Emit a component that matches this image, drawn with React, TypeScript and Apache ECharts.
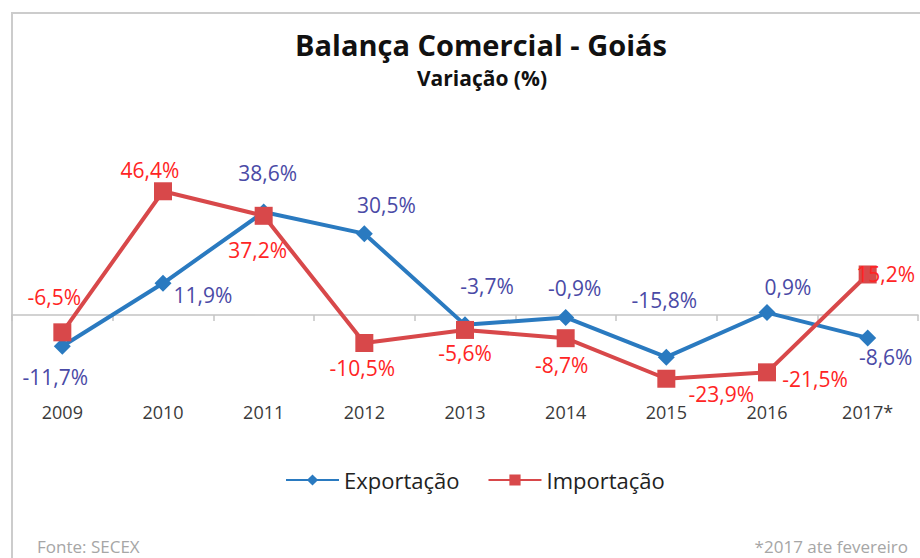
import React, { useEffect, useRef } from "react";
import * as echarts from "echarts";

const categories = ["2009", "2010", "2011", "2012", "2013", "2014", "2015", "2016", "2017*"];
const exportacao = [-11.7, 11.9, 38.6, 30.5, -3.7, -0.9, -15.8, 0.9, -8.6];
const importacao = [-6.5, 46.4, 37.2, -10.5, -5.6, -8.7, -23.9, -21.5, 15.2];

// label offsets (styling) relative to each marker
const expLabelOffsets = [[-7, 31], [40, 12], [4, -39], [22, -29], [22, -39], [9, -29], [-2, -57], [21, -26], [18, 19]];
const impLabelOffsets = [[-8, -35], [-13, -21], [-6, 34], [-2, 25], [0, 23], [-4, 27], [55, 15], [48, 7], [18, 0]];

const FONT = "'Open Sans', 'Noto Sans', sans-serif";
const fmt = (v: number) => v.toFixed(1).replace(".", ",") + "%";

export default function App() {
  const ref = useRef<HTMLDivElement>(null);
  useEffect(() => {
    if (!ref.current) return;
    const chart = echarts.init(ref.current, undefined, { renderer: "svg" });
    const mk = (vals: number[], offs: number[][]) =>
      vals.map((v, i) => ({ value: v, label: { offset: offs[i] } }));
    chart.setOption({
      animation: false,
      backgroundColor: "#ffffff",
      textStyle: { fontFamily: FONT },
      grid: { left: 12, right: 2, top: 155, bottom: 163, containLabel: false },
      xAxis: [
        {
          type: "category",
          data: categories,
          position: "bottom",
          axisLine: { show: true, onZero: true, lineStyle: { color: "#c4c4c4", width: 1.5 } },
          axisTick: { show: true, length: 6, lineStyle: { color: "#c4c4c4", width: 1.5 } },
          axisLabel: { show: false },
          splitLine: { show: false },
        },
        {
          type: "category",
          data: categories,
          position: "bottom",
          axisLine: { show: false, onZero: false },
          axisTick: { show: false },
          axisLabel: { show: true, color: "#3a3a3a", fontSize: 18, fontFamily: FONT, margin: 8 },
          splitLine: { show: false },
        },
      ],
      yAxis: { type: "value", min: -30, max: 60, show: false, splitLine: { show: false } },
      legend: {
        left: 280,
        top: 464,
        itemWidth: 53,
        itemHeight: 14,
        itemGap: 28,
        textStyle: { fontSize: 22, color: "#222222", fontFamily: FONT },
        data: ["Exportação", "Importação"],
      },
      series: [
        {
          name: "Exportação",
          type: "line",
          xAxisIndex: 0,
          data: mk(exportacao, expLabelOffsets),
          symbol: "diamond",
          symbolSize: 17,
          lineStyle: { color: "#2a7ac0", width: 4 },
          itemStyle: { color: "#2a7ac0" },
          label: {
            show: true,
            position: "inside",
            color: "#4a4aa6",
            fontSize: 21,
            fontFamily: FONT,
            formatter: (p: any) => fmt(p.value),
          },
          z: 2,
        },
        {
          name: "Importação",
          type: "line",
          xAxisIndex: 0,
          data: mk(importacao, impLabelOffsets),
          symbol: "rect",
          symbolSize: 18,
          lineStyle: { color: "#d8484a", width: 4 },
          itemStyle: { color: "#d8484a" },
          label: {
            show: true,
            position: "inside",
            color: "#ff2424",
            fontSize: 21,
            fontFamily: FONT,
            formatter: (p: any) => fmt(p.value),
          },
          z: 3,
        },
      ],
      graphic: [
        {
          type: "rect",
          shape: { x: 12, y: 13, width: 940, height: 580 },
          style: { fill: "none", stroke: "#cccccc", lineWidth: 2 },
          silent: true,
        },
        {
          type: "text",
          x: 481,
          y: 44,
          style: {
            text: "Balança Comercial - Goiás",
            font: `bold 29px ${FONT}`,
            fill: "#111111",
            textAlign: "center",
            textVerticalAlign: "middle",
          },
        },
        {
          type: "text",
          x: 482,
          y: 78,
          style: {
            text: "Variação (%)",
            font: `bold 21px ${FONT}`,
            fill: "#111111",
            textAlign: "center",
            textVerticalAlign: "middle",
          },
        },
        {
          type: "text",
          x: 37,
          y: 546,
          style: {
            text: "Fonte: SECEX",
            font: `17px ${FONT}`,
            fill: "#a6a6a6",
            textAlign: "left",
            textVerticalAlign: "middle",
          },
        },
        {
          type: "text",
          x: 908,
          y: 546,
          style: {
            text: "*2017 ate fevereiro",
            font: `17px ${FONT}`,
            fill: "#a6a6a6",
            textAlign: "right",
            textVerticalAlign: "middle",
          },
        },
      ],
    });
    return () => chart.dispose();
  }, []);
  return (
    <div
      ref={ref}
      style={{ position: "fixed", left: 0, top: 0, width: 920, height: 558 }}
    />
  );
}
